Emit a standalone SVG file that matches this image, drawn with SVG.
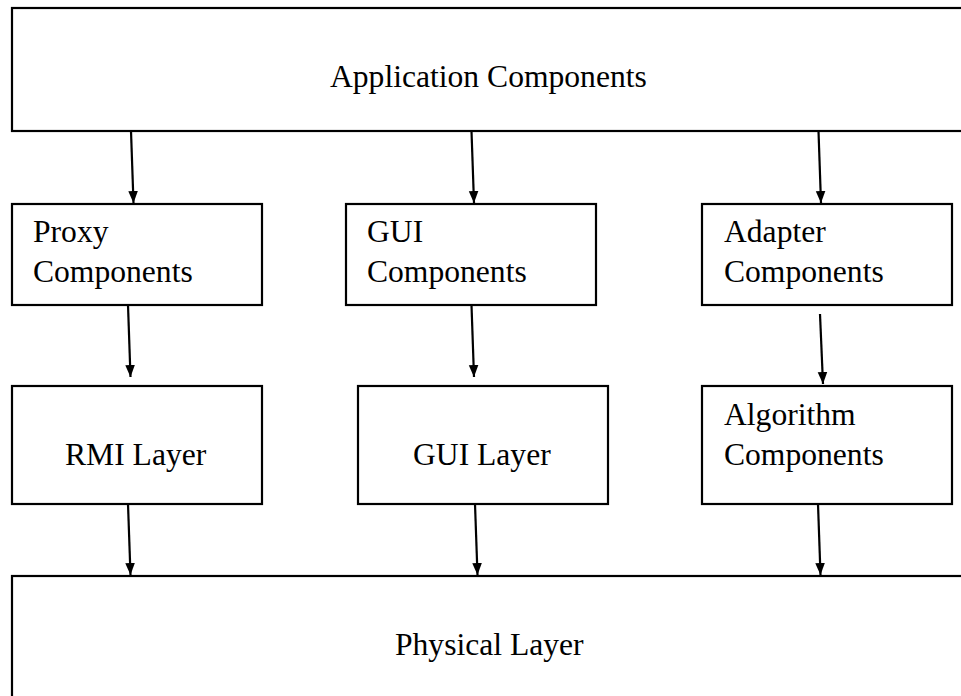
<svg xmlns="http://www.w3.org/2000/svg" width="961" height="696" viewBox="0 0 961 696">
  <style>
    .box { fill: #ffffff; stroke: #000000; stroke-width: 2.2; }
    .label { font-family: "Liberation Serif", "Times New Roman", serif; font-size: 31.6px; fill: #000000; }
    .arrow { stroke: #000000; stroke-width: 2.2; fill: none; marker-end: url(#head); }
  </style>
  <defs>
    <marker id="head" markerUnits="userSpaceOnUse" markerWidth="12" markerHeight="12" viewBox="0 0 10 8" refX="10" refY="4" orient="auto">
      <path d="M0,0 L10,4 L0,8 Z" fill="#000000"/>
    </marker>
  </defs>
  <rect width="961" height="696" fill="#ffffff"/>

  <g id="application-components">
    <rect class="box" x="12" y="8" width="960" height="123"/>
    <text class="label" x="330" y="87">Application Components</text>
  </g>

  <g id="proxy-components">
    <rect class="box" x="12" y="204" width="250" height="101"/>
    <text class="label" x="33" y="242">Proxy</text>
    <text class="label" x="33" y="282">Components</text>
  </g>

  <g id="gui-components">
    <rect class="box" x="346" y="204" width="250" height="101"/>
    <text class="label" x="367" y="242">GUI</text>
    <text class="label" x="367" y="282">Components</text>
  </g>

  <g id="adapter-components">
    <rect class="box" x="702" y="204" width="250" height="101"/>
    <text class="label" x="724" y="242">Adapter</text>
    <text class="label" x="724" y="282">Components</text>
  </g>

  <g id="rmi-layer">
    <rect class="box" x="12" y="386" width="250" height="118"/>
    <text class="label" x="65" y="465">RMI Layer</text>
  </g>

  <g id="gui-layer">
    <rect class="box" x="358" y="386" width="250" height="118"/>
    <text class="label" x="413" y="465">GUI Layer</text>
  </g>

  <g id="algorithm-components">
    <rect class="box" x="702" y="386" width="250" height="118"/>
    <text class="label" x="724" y="425">Algorithm</text>
    <text class="label" x="724" y="465">Components</text>
  </g>

  <g id="physical-layer">
    <rect class="box" x="12" y="576" width="960" height="140"/>
    <text class="label" x="395" y="655">Physical Layer</text>
  </g>

  <g id="connectors">
    <line class="arrow" x1="131" y1="131" x2="133.5" y2="203"/>
    <line class="arrow" x1="471.5" y1="131" x2="474" y2="203"/>
    <line class="arrow" x1="818.5" y1="131" x2="821" y2="203"/>
    <line class="arrow" x1="128" y1="305" x2="130.5" y2="377"/>
    <line class="arrow" x1="471.5" y1="305" x2="474" y2="377"/>
    <line class="arrow" x1="820" y1="314" x2="823" y2="384"/>
    <line class="arrow" x1="128" y1="504" x2="130.5" y2="575"/>
    <line class="arrow" x1="475" y1="504" x2="477.5" y2="575"/>
    <line class="arrow" x1="818" y1="504" x2="820.5" y2="575"/>
  </g>
</svg>
